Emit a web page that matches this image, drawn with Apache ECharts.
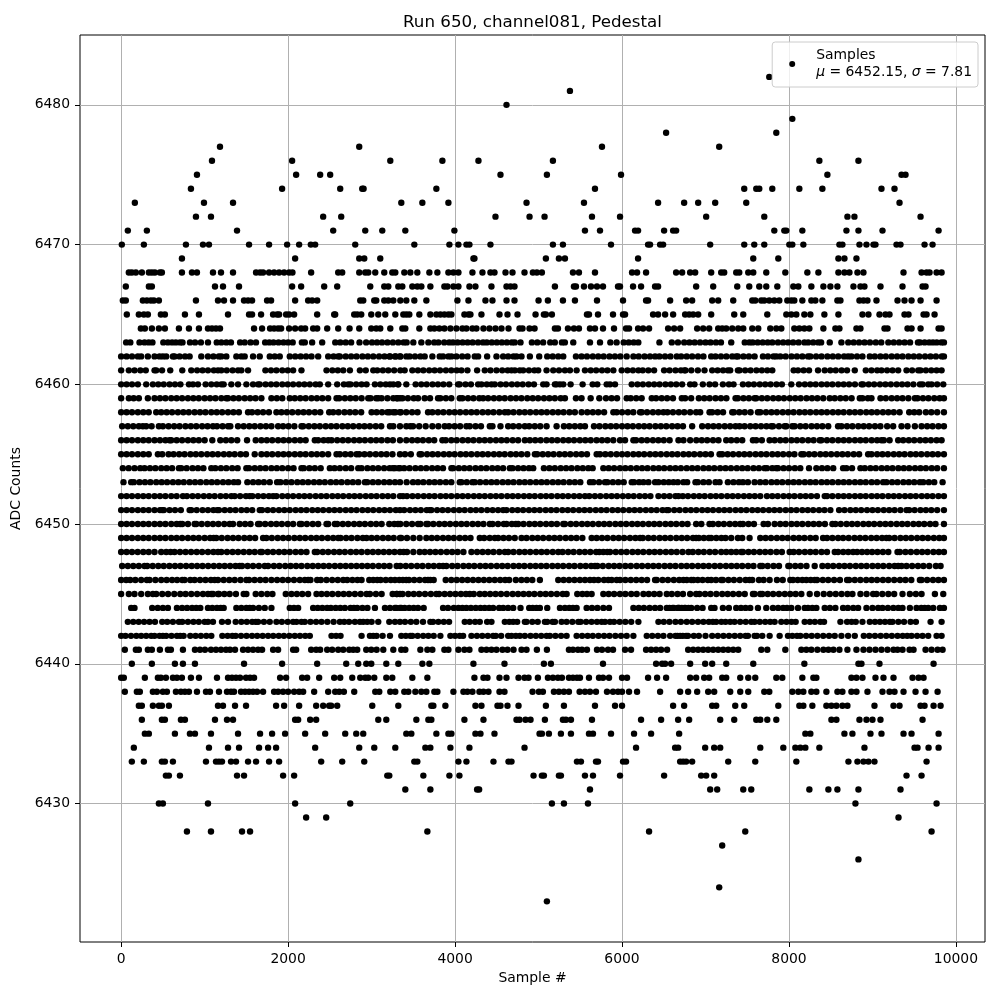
<!DOCTYPE html>
<html><head><meta charset="utf-8"><style>html,body{margin:0;background:#fff}#c{width:1000px;height:1000px}</style>
<script src="https://cdn.jsdelivr.net/npm/echarts@6/dist/echarts.min.js"></script></head><body><div id="c"></div>
<script>
const chartTitle="Run 650, channel081, Pedestal";
const xLabel="Sample #";
const yLabel="ADC Counts";
const xTicks=[0,2000,4000,6000,8000,10000];
const yTicks=[6430,6440,6450,6460,6470,6480];
const r6423=[5100];
const r6424=[7164];
const r6426=[8832];
const r6427=[7200];
const r6428=[788,1076,1448,1544,3668,6324,7476,9708];
const r6429=[2216,2456,9312];
const r6430=[452,500,1040,2084,2744,5160,5304,5592,8796,9768];
const r6431=[3404,3704,4264,4288,5616,7056,7140,7452,7548,8244,8472,8580,8832,9336];
const r6432=[536,572,704,1388,1472,1940,2072,3188,3212,3620,3932,4052,4940,5040,5064,5244,5268,5556,5652,5976,6504,6948,7008,7104,9408,9588];
const r6433=[128,272,488,524,620,1016,1136,1172,1208,1316,1376,1520,1616,1772,1892,2396,2648,2912,3512,3548,4040,4136,4460,4640,4676,5460,5508,5688,5712,6012,6048,6696,6732,6768,6840,7272,7596,8088,8712,8820,8892,8952,9024,9648];
const r6434=[152,1052,1280,1412,1652,1760,1856,2324,2852,3032,3284,3644,3704,3944,4172,4832,6168,6636,6672,6996,7104,7176,7656,7932,8076,8136,8196,8364,8904,9504,9540,9672,9792];
const r6435=[284,332,644,824,884,1076,1400,1664,1808,1964,2204,2444,2684,2816,2900,3416,3476,3776,3920,3956,4244,4304,4472,5012,5040,5124,5268,5388,5604,5652,5868,6144,6348,6684,8196,8256,8664,8760,8976,9108,9372,9468,9792];
const r6436=[248,488,524,716,764,1124,1268,1340,2084,2120,2264,2336,3080,3176,3536,3680,3716,4112,4340,4736,4772,4844,4904,5076,5292,5328,5388,5640,6228,6468,6672,6804,7176,7344,7608,7656,7740,7848,8508,8568,8844,8928,9000,9096,9600];
const r6437=[212,248,380,452,488,572,1160,1220,1364,1496,1856,1952,2132,2336,2420,2492,2516,2588,3008,3320,3716,3740,3884,4244,4316,4508,4544,4628,4760,5088,5304,5676,5916,6000,6612,6744,7080,7128,7356,7464,7872,8124,8172,8280,8448,8508,8568,8640,8700,9024,9252,9324,9576,9624,9732,9816];
const r6438=[44,188,224,380,428,500,548,656,716,764,812,908,1016,1064,1172,1268,1316,1352,1436,1484,1532,1580,1628,1700,1832,1880,1940,2000,2072,2132,2180,2312,2480,2564,2612,2668,2792,3044,3092,3224,3284,3392,3440,3524,3596,3656,3752,3788,3980,4100,4148,4208,4292,4340,4400,4532,4592,4928,5004,5052,5184,5244,5304,5364,5492,5556,5616,5688,5820,5892,5952,6000,6084,6180,6456,6696,6792,6900,7032,7104,7296,7416,7512,7704,7764,8040,8112,8172,8268,8328,8448,8580,8640,8748,8808,8940,9120,9204,9264,9372,9516,9636,9780];
const r6439=[0,32,284,440,476,536,620,668,728,836,932,1148,1280,1328,1376,1424,1496,1544,1592,1904,1976,2168,2228,2372,2552,2624,2768,2864,2924,2960,3032,3176,3248,3488,3668,4232,4340,4388,4532,4616,4760,4832,4880,4992,5112,5172,5232,5280,5364,5412,5460,5496,5604,5724,5772,5844,6000,6060,6312,6420,6528,6816,6888,6984,7044,7200,7248,7416,7512,7596,7848,7920,8160,8292,8328,8748,8808,8880,9036,9132,9252,9480,9552,9612];
const r6440=[128,368,644,740,884,1472,1928,2348,2696,2840,2936,2996,3176,3320,3608,3692,4220,4592,5064,5148,5772,6408,6480,6516,6588,6816,6996,7080,7248,7572,8184,8832,8868,9084,9732];
const r6441=[44,176,212,320,368,464,560,596,740,884,944,1004,1076,1136,1196,1256,1304,1364,1460,1520,1580,1640,1688,1820,1880,2060,2096,2276,2336,2384,2468,2528,2600,2660,2732,2780,2828,2936,2996,3060,3140,3260,3356,3404,3584,3668,3728,3872,3920,4040,4112,4172,4316,4376,4436,4496,4568,4628,4700,4796,4856,4980,5100,5364,5412,5472,5520,5580,5700,5760,5832,5892,6036,6108,6288,6348,6408,6468,6540,6792,6852,6912,6972,7032,7092,7152,7212,7272,7332,7392,7668,7740,7956,8148,8208,8268,8340,8412,8472,8532,8604,8700,8808,8892,8964,9036,9108,9180,9252,9300,9360,9444,9492,9636,9708,9780,9840];
const r6442=[0,52,118,182,240,300,360,400,460,500,540,603,668,708,748,828,892,955,1020,1080,1212,1275,1332,1372,1436,1502,1568,1630,1695,1760,1822,1888,1950,2015,2080,2142,2205,2260,2520,2575,2628,2880,2980,3020,3060,3132,3220,3356,3410,3464,3488,3552,3618,3680,3744,3824,3944,4000,4056,4096,4196,4262,4326,4392,4456,4488,4552,4636,4676,4728,4776,4836,4904,4968,5032,5096,5136,5202,5270,5336,5456,5522,5588,5650,5718,5785,5850,5920,5988,6056,6136,6296,6362,6430,6496,6576,6664,6768,6640,6696,6728,6790,6860,6920,7000,7080,7148,7215,7282,7350,7416,7480,7508,7588,7616,7680,7768,7888,7988,8040,8096,8136,8205,8272,8340,8410,8480,8548,8628,8708,8788,8896,8962,9030,9098,9165,9232,9300,9362,9416,9468,9535,9600,9668,9768,9828];
const r6443=[80,145,210,275,340,405,492,552,620,692,732,800,866,930,1000,1040,1100,1208,1280,1372,1440,1505,1570,1612,1640,1710,1780,1860,1925,1995,2060,2100,2160,2200,2268,2335,2400,2470,2545,2620,2672,2730,2800,2860,2900,2948,3000,3080,3212,3280,3340,3400,3470,3536,3616,3704,3736,3800,3865,3928,4116,4175,4240,4296,4384,4436,4596,4650,4696,4744,4836,4856,4925,4990,5076,5104,5168,5196,5276,5336,5405,5476,5504,5570,5635,5700,5756,5796,5856,5904,5972,6040,6110,6196,6436,6500,6568,6640,6705,6775,6840,6910,6975,7040,7088,7128,7190,7240,7296,7348,7415,7482,7548,7588,7650,7715,7775,7828,7908,7970,8030,8080,8188,8250,8310,8375,8420,8616,8696,8750,8800,8880,8968,9030,9090,9150,9208,9240,9310,9378,9456,9520,9696,9828];
const r6444=[120,160,372,438,500,560,668,730,790,850,900,948,1040,1092,1148,1192,1228,1380,1440,1500,1540,1580,1650,1720,1800,2020,2070,2120,2300,2355,2410,2468,2512,2570,2625,2680,2748,2788,2828,2890,2950,3040,3160,3220,3280,3340,3296,3356,3396,3450,3504,3556,3624,3856,3915,3985,4040,4088,4136,4190,4248,4304,4355,4408,4456,4528,4576,4635,4696,4784,4888,4930,4976,5016,5104,5256,5316,5368,5412,5456,5576,5640,5705,5776,5844,6136,6200,6262,6330,6395,6456,6536,6605,6676,6716,6796,6568,6620,6668,6688,6748,6760,6830,6900,6965,7068,7108,7208,7280,7368,7425,7480,7536,7628,7728,7808,7870,7930,7976,8028,8108,8188,8228,8280,8328,8428,8490,8556,8648,8705,8770,8828,8928,9000,9068,9120,9185,9250,9310,9360,9448,9528,9585,9625,9668,9728,9808,9856];
const r6445=[0,92,160,240,320,380,420,492,562,636,708,772,840,910,980,1040,1080,1100,1160,1172,1236,1300,1375,1468,1500,1612,1680,1750,1812,1972,2040,2105,2170,2240,2340,2400,2465,2530,2600,2665,2730,2800,2870,2940,2980,3052,3120,3252,3300,3340,3304,3370,3440,3505,3570,3640,3710,3776,3808,3875,3940,4005,4070,4130,4176,4224,4296,4356,4420,4485,4550,4620,4690,4755,4820,4885,4950,5020,5085,5150,5220,5290,5336,5464,5525,5580,5636,5776,5840,5905,5975,6040,6110,6176,6256,6320,6385,6450,6536,6596,6665,6730,6816,6888,6928,6995,7060,7130,7200,7265,7330,7400,7470,7568,7588,7656,7680,7745,7810,7880,7950,8015,8080,8148,8248,8336,8416,8490,8560,8630,8700,8760,8856,8930,9008,9048,9118,9190,9260,9360,9448,9520,9588,9748,9848];
const r6446=[0,60,108,170,240,308,340,410,480,545,610,670,732,760,828,880,945,1010,1075,1120,1160,1228,1295,1360,1430,1500,1532,1598,1665,1730,1800,1868,1935,2000,2070,2140,2200,2240,2268,2348,2392,2460,2528,2595,2660,2708,2770,2830,2880,2972,3020,3068,3108,3170,3230,3280,3332,3375,3416,3448,3510,3575,3640,3676,3704,3744,3888,3955,4020,4085,4150,4215,4280,4345,4410,4475,4540,4600,4648,4728,4795,4860,4925,5016,5236,5300,5365,5430,5495,5556,5616,5664,5716,5784,5836,5876,5936,5976,6040,6105,6170,6235,6300,6396,6416,6485,6550,6620,6685,6736,6776,6830,6856,6908,6965,7028,7068,7125,7188,7208,7275,7340,7410,7480,7528,7560,7640,7696,7768,7856,7925,8016,8048,8105,8160,8208,8260,8308,8336,8405,8470,8540,8610,8696,8720,8788,8855,8925,8990,9055,9125,9190,9260,9330,9395,9465,9568,9588,9655,9725,9790,9856];
const r6447=[12,80,145,212,280,312,378,445,510,578,645,710,778,845,910,975,1042,1110,1175,1240,1305,1370,1420,1448,1515,1580,1650,1720,1760,1830,1895,1965,2030,2095,2160,2230,2295,2360,2425,2490,2560,2625,2690,2755,2820,2885,2950,3015,3085,3150,3215,3300,3344,3410,3475,3545,3610,3680,3745,3810,3856,3896,3965,4030,4100,4165,4230,4300,4365,4430,4500,4565,4630,4700,4765,4830,4900,4965,5030,5095,5165,5230,5295,5365,5430,5500,5565,5630,5676,5704,5770,5840,5905,5970,6040,6105,6175,6240,6310,6375,6440,6510,6575,6640,6710,6775,6840,6910,6975,7040,7110,7175,7245,7310,7375,7440,7510,7575,7656,7680,7745,7815,7880,7992,8008,8075,8140,8210,8308,8400,8465,8530,8600,8665,8730,8800,8865,8930,9000,9065,9130,9200,9265,9308,9348,9408,9475,9545,9610,9680,9760,9816];
const r6448=[0,65,130,198,265,330,400,480,540,592,640,705,772,838,905,970,1040,1105,1160,1200,1268,1335,1400,1468,1535,1600,1668,1688,1755,1820,1890,1955,2020,2090,2155,2220,2320,2348,2415,2480,2550,2615,2680,2750,2815,2880,2950,3015,3080,3145,3210,3275,3340,3384,3424,3500,3576,3636,3700,3765,3830,3900,3965,4030,4100,4196,4264,4330,4395,4460,4530,4596,4636,4700,4770,4835,4900,4970,5035,5100,5170,5236,5288,5355,5420,5490,5555,5620,5690,5728,5776,5824,5856,5925,5990,6055,6125,6190,6255,6325,6390,6455,6525,6590,6655,6725,6796,6848,6915,6980,7050,7115,7188,7248,7308,7368,7428,7448,7515,7580,7650,7715,7780,7850,7915,8008,8056,8120,8190,8255,8320,8390,8455,8548,8588,8650,8710,8768,8816,8875,8936,8996,9060,9125,9190,9300,9328,9395,9460,9530,9595,9660,9730,9795,9856];
const r6449=[0,65,130,200,265,330,400,465,530,600,665,730,800,865,930,1000,1065,1108,1140,1205,1275,1340,1405,1475,1540,1605,1700,1740,1805,1875,1940,2005,2075,2140,2205,2275,2340,2405,2475,2540,2600,2628,2695,2760,2830,2895,2940,3000,3065,3135,3200,3265,3340,3356,3424,3500,3576,3656,3720,3785,3855,3920,3985,4055,4120,4185,4296,4348,4415,4476,4516,4580,4645,4715,4796,4856,4925,4990,5055,5125,5190,5255,5325,5390,5455,5525,5636,5696,5760,5825,5895,5960,6025,6095,6160,6216,6248,6315,6380,6450,6515,6580,6650,6715,6780,6850,6888,6920,6980,7040,7068,7130,7190,7240,7308,7388,7440,7528,7656,7720,7785,7855,7920,7985,8055,8120,8185,8255,8320,8408,8456,8520,8588,8648,8715,8785,8850,8915,8985,9050,9115,9168,9200,9265,9335,9400,9465,9535,9600,9665,9735,9800,9856];
const r6450=[0,65,130,200,265,330,400,465,530,600,665,708,732,800,880,900,965,1035,1100,1165,1235,1300,1340,1420,1485,1550,1640,1660,1725,1795,1860,1925,1995,2060,2140,2160,2225,2295,2360,2460,2480,2560,2588,2655,2720,2790,2855,2920,2990,3055,3120,3212,3272,3316,3344,3415,3485,3556,3584,3656,3676,3740,3810,3875,3940,4010,4075,4140,4210,4275,4340,4416,4448,4515,4584,4616,4680,4728,4756,4820,4890,4955,5020,5090,5155,5220,5296,5316,5385,5450,5520,5585,5650,5720,5785,5850,5920,5985,6050,6120,6185,6250,6320,6385,6450,6520,6585,6650,6720,6785,6888,6950,7048,7088,7155,7220,7290,7355,7416,7448,7515,7580,7696,7748,7828,7895,7960,8030,8095,8160,8230,8295,8360,8430,8520,8556,8620,8690,8755,8820,8890,8955,9020,9090,9155,9220,9290,9355,9420,9490,9555,9620,9690,9755,9856];
const r6451=[0,65,130,200,265,330,400,465,492,512,580,645,715,820,840,905,975,1040,1105,1152,1172,1240,1305,1370,1440,1505,1570,1660,1688,1755,1820,1890,1955,2020,2090,2155,2220,2290,2355,2420,2490,2555,2620,2690,2755,2820,2890,2955,3020,3090,3155,3220,3290,3340,3390,3460,3525,3590,3660,3696,3716,3785,3850,3915,3985,4050,4115,4185,4250,4315,4385,4450,4515,4576,4616,4685,4750,4815,4885,4950,5015,5085,5150,5215,5285,5350,5415,5485,5550,5615,5685,5750,5815,5885,5950,6015,6085,6150,6215,6285,6350,6415,6485,6536,6556,6625,6690,6760,6825,6890,6960,7025,7090,7160,7225,7290,7360,7425,7490,7560,7625,7690,7760,7825,7890,7960,8025,8090,8160,8225,8290,8360,8425,8496,8600,8665,8735,8800,8865,8935,9000,9065,9135,9200,9265,9335,9408,9440,9505,9575,9640,9705,9775,9856];
const r6452=[0,65,130,200,265,330,400,465,530,600,665,740,788,855,920,990,1055,1120,1190,1255,1320,1360,1425,1495,1540,1572,1640,1705,1770,1820,1860,1930,1995,2060,2130,2195,2260,2330,2395,2460,2530,2595,2660,2730,2795,2860,2930,2995,3060,3130,3195,3260,3340,3376,3424,3490,3555,3625,3690,3755,3825,3890,3955,4025,4090,4155,4225,4290,4356,4424,4490,4555,4625,4690,4755,4825,4890,4955,5025,5090,5155,5225,5290,5355,5425,5490,5556,5608,5675,5740,5810,5875,5940,6010,6075,6140,6210,6275,6340,6436,6504,6570,6640,6676,6728,6790,6860,6925,6990,7060,7125,7190,7260,7325,7390,7460,7525,7590,7656,7736,7800,7865,7935,8000,8065,8135,8200,8265,8335,8428,8456,8520,8590,8655,8720,8790,8855,8920,8990,9055,9120,9190,9255,9320,9390,9455,9520,9590,9655,9720,9790,9856];
const r6453=[28,120,152,220,285,350,420,485,550,620,685,750,820,885,950,1020,1085,1150,1220,1285,1350,1400,1512,1580,1645,1710,1780,1868,1908,1975,2040,2110,2175,2240,2310,2375,2440,2510,2575,2640,2710,2775,2840,2920,2948,3015,3080,3150,3215,3280,3340,3420,3496,3556,3620,3690,3755,3820,3890,3955,4056,4076,4140,4208,4236,4300,4370,4435,4500,4570,4635,4700,4770,4835,4900,4970,5035,5100,5170,5235,5300,5370,5435,5500,5616,5656,5725,5796,5824,5890,5955,6020,6116,6144,6205,6256,6316,6396,6436,6500,6560,6616,6668,6736,6780,6880,6908,6975,7040,7120,7168,7268,7335,7400,7448,7508,7588,7655,7720,7790,7855,7920,7990,8055,8120,8190,8255,8320,8390,8455,8520,8590,8655,8720,8790,8855,8920,8990,9055,9128,9168,9235,9300,9370,9435,9500,9568,9608,9675,9740,9840];
const r6454=[20,90,160,228,280,345,410,480,545,610,692,720,785,855,920,985,1080,1128,1195,1260,1330,1395,1500,1532,1600,1665,1730,1800,1865,1930,2000,2065,2160,2188,2255,2320,2390,2500,2556,2620,2690,2755,2840,2880,2950,3015,3080,3150,3216,3280,3340,3256,3325,3390,3455,3525,3590,3655,3725,3790,3855,3956,3976,4045,4110,4175,4245,4310,4375,4445,4510,4575,4656,4688,4755,4820,4885,4936,5064,5130,5195,5265,5330,5395,5465,5530,5596,5648,5776,5840,5905,5975,6040,6105,6175,6240,6305,6375,6440,6505,6575,6640,6705,6775,6840,6905,6975,7040,7105,7175,7240,7305,7375,7440,7505,7575,7640,7708,7736,7800,7848,7868,7935,8000,8070,8135,8240,8328,8395,8460,8530,8648,8688,8755,8856,8908,8975,9040,9110,9175,9240,9310,9375,9440,9510,9575,9640,9710,9775,9856];
const r6455=[0,65,130,200,265,330,440,492,568,628,695,760,830,895,960,1030,1095,1160,1230,1295,1360,1430,1495,1600,1680,1745,1810,1880,1945,2010,2080,2145,2210,2280,2345,2410,2480,2580,2620,2685,2750,2820,2852,2915,2980,3050,3115,3180,3250,3340,3400,3470,3576,3596,3665,3730,3795,3865,3930,3995,4065,4130,4195,4265,4330,4395,4465,4530,4595,4665,4730,4795,4865,4956,4984,5050,5115,5180,5250,5315,5380,5450,5515,5580,5696,5736,5800,5865,5935,6000,6065,6135,6200,6265,6335,6400,6465,6535,6600,6665,6735,6800,6865,6935,7000,7065,7168,7200,7265,7330,7400,7465,7530,7600,7665,7730,7800,7865,7930,8000,8065,8148,8176,8240,8305,8375,8440,8505,8575,8640,8705,8775,8840,8948,8988,9056,9120,9185,9255,9320,9385,9455,9520,9585,9655,9720,9785,9856];
const r6456=[0,65,130,200,265,330,400,465,530,580,600,665,730,800,865,930,1000,1092,1188,1255,1320,1390,1508,1612,1680,1745,1810,1880,1945,2010,2080,2145,2210,2320,2360,2425,2480,2520,2588,2655,2720,2790,2855,2920,2990,3055,3120,3190,3255,3340,3416,3485,3550,3615,3685,3750,3848,3888,3955,4020,4090,4155,4220,4290,4355,4420,4490,4555,4620,4690,4755,4836,4896,4960,5025,5095,5160,5225,5295,5360,5425,5495,5560,5625,5695,5760,5825,5895,5976,6036,6136,6168,6235,6300,6370,6435,6500,6570,6676,6736,6816,6890,6955,7020,7090,7155,7248,7308,7375,7440,7568,7608,7675,7768,7828,7895,7960,8030,8095,8160,8230,8295,8368,8388,8455,8520,8590,8655,8720,8790,8855,8920,8990,9055,9108,9136,9205,9308,9368,9435,9500,9570,9635,9700,9768,9828];
const r6457=[12,80,145,212,260,300,365,452,500,568,635,700,770,835,900,970,1035,1100,1148,1215,1280,1308,1400,1468,1535,1600,1668,1735,1800,1880,1940,2005,2075,2160,2180,2248,2315,2380,2450,2515,2580,2650,2715,2780,2850,2915,2980,3050,3115,3220,3260,3340,3416,3464,3496,3570,3648,3728,3800,3876,3928,3995,4060,4136,4176,4245,4310,4416,4448,4544,4636,4696,4765,4836,4888,4955,5020,5096,5216,5304,5368,5435,5500,5556,5664,5730,5800,5865,5930,6000,6065,6130,6200,6265,6330,6400,6465,6530,6600,6665,6730,6840,6960,7030,7095,7160,7230,7295,7360,7408,7468,7536,7600,7665,7730,7788,7808,7880,7948,7968,8040,8068,8135,8200,8270,8335,8400,8470,8588,8628,8695,8760,8830,8895,8960,9030,9095,9176,9248,9348,9420,9508,9588,9655,9720,9790,9856];
const r6458=[0,65,130,200,265,330,420,480,545,610,680,745,810,880,945,1010,1080,1145,1210,1280,1345,1410,1520,1568,1635,1700,1770,1860,1920,1985,2050,2120,2185,2250,2320,2385,2492,2540,2605,2675,2740,2805,2875,3000,3060,3125,3190,3260,3340,3216,3285,3350,3415,3485,3550,3676,3728,3795,3860,3930,3995,4060,4130,4195,4260,4330,4395,4460,4530,4596,4636,4700,4770,4835,4900,4970,5035,5100,5170,5235,5300,5370,5435,5516,5584,5650,5715,5785,5896,5936,6000,6070,6135,6216,6236,6300,6370,6435,6496,6544,6610,6680,6745,6816,6888,6936,7048,7080,7145,7210,7320,7340,7405,7470,7540,7628,7656,7725,7790,7855,7925,7990,8055,8125,8190,8255,8325,8390,8455,8525,8590,8655,8725,8790,8855,8925,8990,9055,9125,9190,9255,9325,9440,9500,9560,9640,9705,9775,9856];
const r6459=[0,92,150,212,320,400,465,530,600,665,730,800,865,930,1000,1065,1130,1200,1260,1280,1345,1410,1480,1545,1610,1680,1800,1865,1930,2020,2080,2145,2210,2280,2345,2410,2480,2580,2612,2680,2745,2810,2880,2960,2988,3055,3080,3120,3190,3260,3308,3340,3304,3370,3435,3505,3556,3636,3700,3796,3824,3890,3955,4056,4088,4155,4220,4290,4336,4396,4465,4530,4595,4665,4730,4795,4865,4930,4995,5065,5130,5195,5265,5316,5448,5515,5624,5728,5808,5875,5940,6056,6104,6170,6235,6356,6408,6475,6540,6610,6716,6756,6828,6920,6985,7050,7120,7185,7250,7360,7388,7455,7520,7588,7608,7675,7740,7810,7875,7940,8010,8075,8140,8210,8275,8340,8410,8488,8548,8615,8680,8750,8848,8880,8945,8988,9096,9160,9230,9295,9360,9430,9508,9540,9605,9670,9740,9805,9856];
const r6460=[0,65,130,200,300,380,445,510,580,645,710,812,860,920,1012,1080,1145,1200,1228,1320,1400,1500,1580,1640,1660,1730,1795,1860,1930,1995,2060,2130,2195,2260,2330,2380,2480,2588,2668,2720,2748,2815,2880,2940,3040,3105,3170,3220,3260,3320,3316,3416,3528,3595,3660,3730,3795,3860,3930,4036,4056,4125,4190,4276,4316,4380,4436,4476,4545,4610,4680,4745,4810,4880,4945,5056,5096,5196,5216,5256,5296,5384,5528,5648,5704,5816,5856,5916,6116,6185,6250,6320,6385,6450,6520,6585,6650,6720,6816,6868,6968,7048,7115,7208,7280,7336,7448,7515,7580,7650,7715,7780,7850,7915,8028,8120,8190,8255,8320,8390,8455,8520,8590,8655,8720,8790,8868,8888,8955,9020,9090,9155,9220,9290,9355,9420,9490,9568,9600,9668,9708,9775,9848];
const r6461=[0,92,160,230,295,400,420,490,588,732,840,910,975,1040,1110,1160,1200,1265,1335,1400,1440,1520,1728,1795,1860,1930,1995,2060,2160,2460,2530,2595,2660,2740,2860,2930,3020,3068,3135,3200,3270,3344,3396,3488,3555,3620,3690,3755,3820,3890,3955,4020,4076,4148,4264,4356,4424,4496,4565,4630,4676,4716,4776,4816,4885,4950,4996,5096,5176,5245,5316,5376,5456,5556,5625,5690,5760,5825,5896,5996,6065,6130,6196,6248,6315,6384,6504,6570,6640,6705,6748,6760,6830,6908,6988,7080,7145,7210,7268,7296,7388,7408,7475,7540,7610,7675,7740,7800,8056,8108,8175,8240,8348,8428,8495,8560,8630,8695,8788,8920,8988,9056,9108,9175,9240,9308,9408,9475,9548,9576,9640,9705,9768,9828];
const r6462=[0,65,130,200,240,320,400,460,500,540,620,640,700,765,820,960,1040,1105,1170,1200,1260,1380,1440,1480,1580,1660,1780,1840,1900,2020,2085,2150,2215,2280,2360,2480,2545,2600,2620,2690,2755,2820,2890,2955,3020,3090,3155,3220,3290,3340,3216,3280,3345,3416,3456,3520,3585,3636,3728,3816,3856,3920,3956,4016,4085,4150,4236,4276,4384,4496,4576,4636,4700,4736,4796,4896,5008,5104,5170,5236,5296,5448,5515,5580,5650,5715,5780,5850,5915,5980,6056,6136,6200,6270,6335,6396,6448,6515,6580,6656,6708,6775,6840,6910,6975,7068,7120,7185,7250,7320,7368,7388,7455,7520,7588,7688,7748,7815,7848,7896,7960,8030,8095,8160,8228,8256,8325,8390,8460,8525,8590,8660,8708,8748,8815,8880,8968,9028,9095,9160,9230,9295,9360,9430,9495,9560,9630,9695,9760,9830,9856];
const r6463=[60,110,220,280,330,375,505,560,610,655,705,735,825,885,955,1040,1145,1200,1260,1315,1425,1480,1550,1615,1725,1775,1825,1885,1945,2000,2055,2165,2200,2288,2408,2565,2625,2690,2755,2855,2935,3005,3065,3125,3190,3255,3320,3384,3420,3500,3596,3680,3750,3800,3870,3930,3975,4030,4090,4150,4210,4275,4335,4380,4440,4500,4560,4620,4680,4715,4784,4920,4985,5055,5140,5195,5280,5315,5416,5616,5736,5860,5935,6020,6080,6140,6195,6448,6596,6670,6745,6808,6870,6935,7000,7060,7125,7185,7308,7470,7525,7565,7625,7685,7745,7800,7868,7930,7990,8050,8115,8185,8230,8290,8350,8385,8488,8628,8710,8775,8840,8905,8970,9040,9105,9190,9255,9320,9385,9450,9545,9570,9625,9680,9725,9770,9825,9856];
const r6464=[236,284,368,452,524,692,812,932,1040,1088,1136,1184,1592,1688,1784,1832,1880,1916,2012,2084,2156,2204,2300,2348,2468,2600,2736,2852,2996,3056,3104,3224,3368,3404,3572,3704,3752,3812,3872,3944,4016,4088,4136,4208,4256,4340,4412,4484,4556,4640,4772,4808,4892,4952,5196,5232,5352,5424,5484,5616,5676,5772,5904,6048,6084,6192,6252,6324,6552,6624,6696,6900,6972,7044,7152,7200,7248,7320,7392,7452,7560,7632,7776,7848,7908,8064,8124,8184,8244,8412,8556,8604,8808,8856,9144,9180,9420,9468,9576,9792,9828];
const r6465=[68,212,272,320,476,524,764,932,1280,1532,1568,1676,1820,1868,1892,1976,2012,2072,2348,2552,2564,2792,2828,2876,2996,3080,3164,3284,3380,3416,3452,3572,3704,3776,3824,3872,3920,3956,4112,4160,4184,4316,4532,4628,4748,4964,5064,5088,5160,5580,5604,5712,5892,6012,6036,6372,6432,6516,6612,6756,6804,6852,6912,7068,7344,7452,7740,7968,8028,8088,8184,8256,8424,8592,8880,8952,9084,9156,9204,9384,9432,9612,9648,9744];
const r6466=[20,56,260,308,356,392,452,896,1160,1232,1340,1472,1520,1568,1748,1796,2084,2240,2288,2348,2864,2900,3032,3056,3152,3200,3260,3344,3416,3512,3656,4028,4160,4364,4448,4616,4712,5000,5112,5292,5436,5700,6012,6288,6312,6576,6768,6840,7080,7152,7332,7560,7596,7668,7704,7764,7824,7884,7980,8028,8064,8160,8268,8316,8400,8580,8616,8844,8892,8940,9048,9300,9384,9468,9576,9768];
const r6467=[56,332,368,1124,1220,1412,2048,2156,2432,2588,2984,3152,3200,3320,3368,3488,3548,3596,3704,3872,3908,3980,4040,4172,4244,4436,4616,4664,4712,5196,5424,5448,5544,5628,5700,5772,5952,5976,6132,6228,6396,6432,6888,7092,7380,7524,7644,7728,7860,8052,8112,8268,8412,8496,8580,8772,8856,8904,9096,9360,9600,9636];
const r6468=[92,128,176,248,332,368,404,464,488,728,848,908,1100,1196,1340,1616,1664,1700,1772,1832,1892,1952,2012,2052,2276,2600,2648,2852,2924,2960,3044,3152,3248,3284,3392,3464,3548,3692,3788,3920,3980,4040,4208,4328,4424,4472,4604,4688,4832,4932,4980,5040,5412,5484,5676,6120,6180,6288,6648,6720,6816,6876,7068,7188,7224,7368,7404,7512,7572,7728,7956,8220,8352,8592,8664,8724,8820,8892,9372,9588,9648,9684,9768,9828];
const r6469=[728,2084,2852,2912,3104,4220,4232,5088,5244,5316,6192,7572,7872,8592,8664,8808];
const r6470=[8,272,776,980,1052,1532,1772,1988,2132,2272,2324,2804,3512,3932,4040,4136,4172,4424,5172,5292,5868,6312,6336,6456,6492,7056,7464,7584,7704,8004,8040,8172,8604,8640,8844,8928,9012,9036,9288,9336,9624,9720];
const r6471=[80,308,1388,2540,2924,3128,3404,3992,5556,5736,6156,6192,6504,6612,6648,7824,7944,7968,8160,8688,8832,9120,9792];
const r6472=[896,1076,2420,2636,4484,4892,5072,5640,5976,7008,7704,8700,8784,9576];
const r6473=[164,992,1340,3356,3608,3920,4856,5544,6432,6744,6912,7116,7488,9324];
const r6474=[836,1928,2624,2888,2904,3776,5676,7464,7608,7644,7800,8124,8400,9108,9264];
const r6475=[908,2096,2384,2504,4544,5100,5988,8460,9348,9396];
const r6476=[1088,2048,3224,3848,4280,5172,8364,8832];
const r6477=[1184,2852,5760,7164];
const r6478=[6528,7848];
const r6479=[8040];
const r6480=[4616];
const r6481=[5376];
const r6482=[7764];
const levels=[6423,6424,6426,6427,6428,6429,6430,6431,6432,6433,6434,6435,6436,6437,6438,6439,6440,6441,6442,6443,6444,6445,6446,6447,6448,6449,6450,6451,6452,6453,6454,6455,6456,6457,6458,6459,6460,6461,6462,6463,6464,6465,6466,6467,6468,6469,6470,6471,6472,6473,6474,6475,6476,6477,6478,6479,6480,6481,6482];
const rows=[r6423,r6424,r6426,r6427,r6428,r6429,r6430,r6431,r6432,r6433,r6434,r6435,r6436,r6437,r6438,r6439,r6440,r6441,r6442,r6443,r6444,r6445,r6446,r6447,r6448,r6449,r6450,r6451,r6452,r6453,r6454,r6455,r6456,r6457,r6458,r6459,r6460,r6461,r6462,r6463,r6464,r6465,r6466,r6467,r6468,r6469,r6470,r6471,r6472,r6473,r6474,r6475,r6476,r6477,r6478,r6479,r6480,r6481,r6482];
const points=[];rows.forEach((r,i)=>r.forEach(x=>points.push([x,levels[i]])));
const F="DejaVu Sans";
function axisOpts(ticks){return {axisLine:{show:false,onZero:false},
  axisTick:{show:true,length:5,customValues:ticks,lineStyle:{color:'#000',width:1}},
  splitLine:{show:true,lineStyle:{color:'#b0b0b0',width:1}},nameLocation:'middle',nameTextStyle:{color:'#000',fontFamily:F,fontSize:13.9},
  axisLabel:{color:'#000',fontFamily:F,fontSize:13.9,customValues:ticks,margin:10,formatter:v=>String(v)}};}
const chart=echarts.init(document.getElementById('c'),null,{renderer:'canvas'});
chart.setOption({animation:false,backgroundColor:'#fff',
 title:{text:chartTitle,left:398,top:9,textStyle:{fontFamily:F,fontSize:16.7,fontWeight:'normal',color:'#000'}},
 grid:{left:80,right:15,top:35,bottom:58,show:true,borderColor:'#000',borderWidth:1,backgroundColor:'transparent'},
 legend:{show:true,data:[{name:'Samples',icon:'circle'}],right:22,top:42,orient:'vertical',padding:[5,6,6,17],itemWidth:38,itemHeight:6,itemGap:0,
  backgroundColor:'rgba(255,255,255,0.8)',borderColor:'#ccc',borderWidth:1,borderRadius:3,
  formatter:()=>'Samples\n{i|μ} = 6452.15, {i|σ} = 7.81',
  textStyle:{fontFamily:F,fontSize:13.9,color:'#000',lineHeight:17,rich:{i:{fontStyle:'italic',fontFamily:F,fontSize:13.9,color:'#000'}}}},
 xAxis:Object.assign(axisOpts(xTicks),{type:'value',min:-493,max:10348,name:xLabel,nameGap:29}),
 yAxis:Object.assign(axisOpts(yTicks),{type:'value',min:6420.09,max:6485,name:yLabel,nameGap:49,nameRotate:90}),
 series:[{name:'Samples',type:'scatter',data:points,symbol:'circle',symbolSize:6.4,itemStyle:{color:'#000',opacity:1},silent:true,z:3}]
});
</script></body></html>
